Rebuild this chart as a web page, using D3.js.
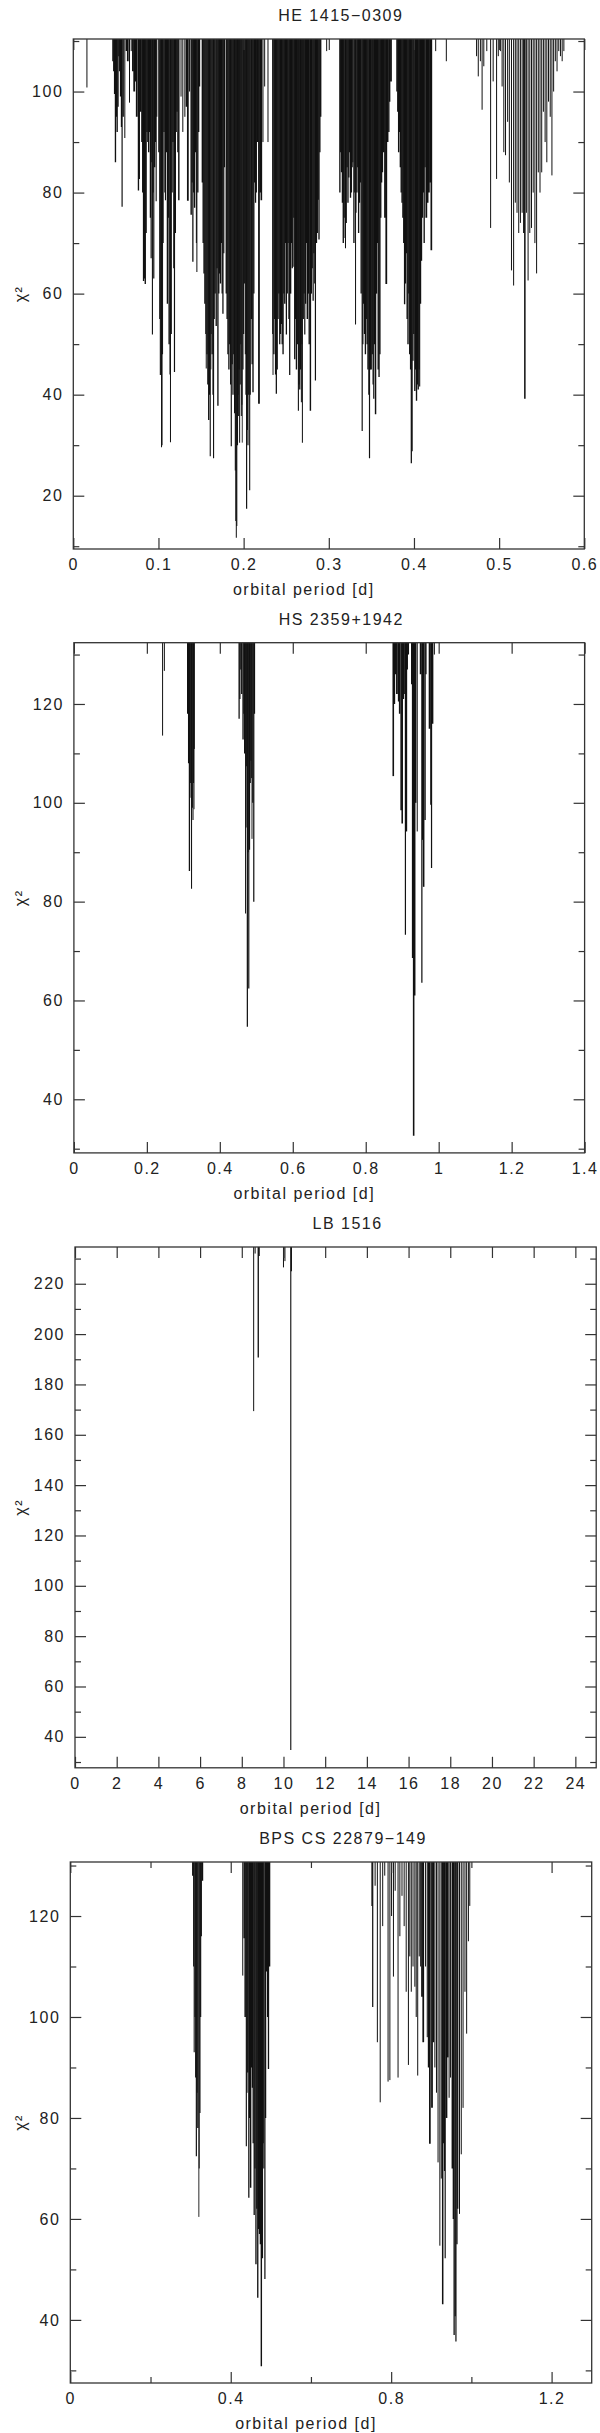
<!DOCTYPE html>
<html>
<head>
<meta charset="utf-8">
<script src="https://cdnjs.cloudflare.com/ajax/libs/d3/7.8.5/d3.min.js"></script>
<style>
  body { margin: 0; background: #fff; }
  svg text { font-family: "Liberation Sans", Arial, sans-serif; font-size: 16px; fill: #222; letter-spacing: 1.5px; }
</style>
</head>
<body>
<svg id="chart" width="600" height="2433"></svg>
<script>
// chi^2 minimum vs. trial orbital period, [period (d), chi2]
const he1415 = [
  [0.016,100.8],
  [0.0465,106],[0.0475,104],[0.0485,99.5],[0.0495,86],[0.0505,95],[0.0515,92],[0.0525,97],[0.0535,107],[0.0545,104],
  [0.0555,99],[0.0565,93],[0.0573,77.2],[0.0585,95],[0.0605,90.8],[0.0625,108],[0.064,106],[0.066,97.8],[0.068,108],
  [0.070,104],[0.0715,100],[0.073,102],[0.0745,95],[0.0765,80.4],[0.0775,82.7],[0.079,96],[0.0805,90],[0.0815,80],
  [0.0825,62.5],[0.0835,63],[0.0845,61.9],[0.0855,72],[0.0865,92],[0.0875,90],[0.0885,88],[0.0895,92],[0.0905,75],
  [0.0914,67],[0.0922,86],[0.0929,51.9],[0.0937,80],[0.0945,63],[0.0955,85],[0.0965,90],[0.0973,78.3],[0.098,95],
  [0.1005,88],[0.1015,55],[0.1022,43.9],[0.103,44],[0.1036,29.6],[0.1042,30],[0.1048,48],[0.1055,70],
  [0.1065,92],[0.1075,80],[0.1082,78.5],
  [0.1095,88],[0.1105,58],[0.1115,75],[0.1125,50],[0.1135,44],[0.1141,30.6],[0.115,52],[0.116,80],[0.117,90],
  [0.118,65],[0.1188,44.5],[0.1198,72],[0.1208,92],[0.1218,96],[0.1228,88],[0.1239,78.5],
  [0.1265,99],[0.1286,92],[0.131,95],[0.133,97],[0.1345,78.4],[0.1365,100],[0.1384,75.6],
  [0.1395,82],[0.1404,66.3],[0.1414,80],[0.1424,77],[0.1435,88],[0.1445,70],[0.1451,64.3],[0.1462,80],[0.1472,92],[0.1482,101],
  [0.1515,82],[0.1525,70],[0.1535,64],[0.1545,58],[0.1555,52],[0.1561,45.2],[0.157,48],[0.158,42],[0.159,35],
  [0.16,40],[0.1608,27.8],[0.1615,45],[0.162,52],[0.163,48],[0.164,40],[0.1647,27.4],[0.1655,55],[0.1665,60],
  [0.1678,53.6],[0.1688,65],[0.1698,37.8],[0.1708,60],[0.1718,64],[0.1728,62],[0.1738,70],[0.1748,60],[0.1757,56],
  [0.1767,68],[0.1775,85],
  [0.1796,60],[0.1806,55],[0.1816,48],[0.1827,45],[0.1837,50],[0.1847,42],[0.1855,29.8],[0.1865,46],[0.1875,40],
  [0.1884,48],[0.1894,36.3],[0.1902,25],[0.1908,15],[0.1914,11.7],[0.192,14],[0.1928,30],[0.1935,40],[0.1941,35.8],
  [0.1947,45],[0.1953,30.5],[0.196,42],[0.1967,50],[0.1973,35.8],[0.198,38],[0.1984,30.5],[0.1992,45],[0.2,52],
  [0.2012,62],[0.202,48],[0.2027,40],[0.2035,17.4],[0.2043,33],[0.2051,30],[0.206,40],[0.2071,21.1],[0.2078,40],
  [0.209,55],[0.21,46],[0.211,40.5],[0.212,60],[0.2129,82],[0.214,78],[0.2149,80],
  [0.2165,90],[0.218,38.2],[0.2195,80],[0.2208,78.5],[0.2227,90],[0.2247,101],[0.2286,90],
  [0.234,52],[0.2345,43.9],[0.2355,48],[0.2365,55],[0.2375,44],[0.2384,40.2],[0.2394,45],[0.2404,55],[0.2414,60],
  [0.2424,50],[0.2433,52],[0.2443,54],[0.2453,50],[0.2463,48],[0.2473,60],[0.2483,58],[0.2493,70],[0.2502,51.9],
  [0.2512,60],[0.2522,70],[0.2532,55],[0.2541,43.9],[0.2552,60],[0.2562,70],[0.2571,65],[0.258,65.3],[0.259,75],
  [0.26,47],[0.261,55],[0.262,45],[0.263,50],[0.2643,36.8],[0.265,42],[0.2659,41],[0.2668,45],[0.2678,38.5],
  [0.2684,50],[0.269,30.5],[0.27,55],[0.271,60],[0.2718,51.9],[0.2728,58],[0.2737,70],[0.2748,55],[0.276,60],
  [0.277,50],[0.2784,36.8],[0.2795,60],[0.2805,65],[0.2816,58.6],[0.2825,68],[0.2835,62],[0.2843,42.8],[0.2855,70],
  [0.2865,72],[0.2875,78.6],[0.2885,70.7],[0.2895,88],[0.2905,95],
  [0.2975,108],
  [0.313,80],[0.314,88],[0.315,84],[0.316,78],[0.317,70],[0.318,75],[0.319,71],[0.3196,69],[0.3205,74],[0.3215,85],
  [0.3225,78],[0.3235,83],[0.3245,88],[0.3255,79],[0.3265,80],[0.3275,85],[0.3282,86],[0.3295,70],[0.3305,80],
  [0.3314,53.9],[0.332,76],[0.333,80],[0.334,85],[0.335,72],[0.336,78],[0.337,82],[0.338,60],[0.3392,32.8],
  [0.34,50],[0.341,58],[0.342,52],[0.343,48],[0.344,55],[0.345,50],[0.346,45],[0.347,40],[0.3478,27.4],[0.3488,45],
  [0.3498,45],[0.351,48],[0.352,42],[0.3528,39.2],[0.3538,50],[0.3549,36.1],[0.356,60],[0.357,70],[0.358,45],
  [0.359,43.5],[0.36,48],[0.361,75],[0.362,82],[0.363,84],[0.3645,88],[0.366,75],[0.3675,61.9],[0.369,90],
  [0.3705,92],[0.3715,98],[0.373,102],
  [0.38,100],[0.381,96],[0.382,88],[0.383,92],[0.384,85],[0.385,80],[0.386,78],[0.387,75],[0.388,70],[0.389,57.9],
  [0.39,62],[0.391,68],[0.392,55],[0.393,50],[0.394,60],[0.395,48],[0.396,45],[0.3969,26.4],[0.3978,28.8],
  [0.3988,46.7],[0.3998,52],[0.401,40.7],[0.402,45],[0.403,38.8],[0.404,42],[0.405,41],[0.406,45],[0.4067,41.6],
  [0.4077,58],[0.4088,66.5],[0.41,75],[0.411,80],[0.412,70],[0.413,85],[0.4145,75],[0.416,78],[0.4175,80],
  [0.419,82],[0.4204,68.6],
  [0.4255,108],[0.438,106],
  [0.4735,107],[0.4755,103],[0.478,106],[0.48,96.4],[0.482,105],[0.4855,108],[0.49,73],[0.493,102],[0.497,82.7],
  [0.499,107],[0.5015,108],[0.5035,101],[0.5055,88],[0.5075,87.4],[0.51,94],[0.512,82],[0.5145,64.6],[0.517,61.6],
  [0.519,78],[0.521,76],[0.523,72],[0.525,74],[0.527,76],[0.529,72],[0.5302,39.2],[0.532,76],[0.534,62.6],
  [0.536,72],[0.538,73],[0.54,80],[0.542,70],[0.544,64],[0.546,84],[0.548,80],[0.55,84],[0.552,96],[0.554,90],
  [0.556,86],[0.558,98],[0.56,95],[0.562,83.4],[0.564,100],[0.566,106],[0.568,104],[0.57,108],[0.572,107],
  [0.574,106],[0.576,108]
];

const hs2359 = [
  [0.2431,113.6],[0.248,126.7],
  [0.312,118],[0.3145,108],[0.3167,86.2],[0.319,104],[0.321,101],[0.3225,82.6],[0.3245,99],[0.3265,96.5],
  [0.328,104],[0.3294,98.7],[0.3304,110.9],
  [0.4529,117],[0.455,121],[0.4578,127],[0.46,122],[0.4637,112.8],[0.466,118],[0.468,110],[0.4706,77.6],
  [0.472,95],[0.4735,107.4],[0.4755,54.7],[0.4775,90],[0.4794,62.4],[0.4814,90.5],[0.4835,104],[0.4853,108.5],
  [0.487,105],[0.4882,92.7],[0.4905,100],[0.4931,80],[0.4951,118],
  [0.8755,105.4],[0.8785,120],[0.882,126],[0.8855,122],[0.8902,120.5],[0.893,118],[0.8971,98.5],[0.9,95.8],
  [0.903,121],[0.9069,122],[0.9088,73.3],[0.9118,94.2],[0.914,127],[0.9167,130],[0.926,124],[0.9284,68.6],
  [0.9314,32.6],[0.9343,61],[0.937,100],[0.9412,94.2],[0.9505,126],[0.9539,63.6],[0.9559,92.5],[0.9588,83],
  [0.9627,96.5],[0.965,126],[0.975,115],[0.9784,99.6],[0.9804,86.8],[0.9833,116],[0.9882,130]
];

const lb1516 = [
  [8.57,169.4],[8.64,232],[8.79,190.7],[8.83,231],[10.0,226.5],[10.07,229],[10.35,34.8],[10.38,225]
];

const bpsCs22879 = [
  [0.3053,128],[0.3075,110],[0.3089,93],[0.311,100],[0.3125,88],[0.3143,72.4],[0.316,85],[0.318,78],[0.3205,60.4],
  [0.3215,70],[0.3232,81],[0.325,100],[0.3267,116],[0.3294,127],
  [0.43,108.2],[0.4335,115.6],[0.436,100],[0.4389,74.4],[0.4405,85],[0.4424,89],[0.4451,64.2],[0.447,80],
  [0.4496,66.2],[0.452,90],[0.454,86],[0.456,75],[0.4585,60.8],[0.4605,70],[0.4629,51],[0.465,62],[0.4674,44.4],
  [0.4695,58],[0.4718,57],[0.474,55],[0.4763,30.8],[0.479,52.2],[0.481,75],[0.4825,70],[0.4852,48.1],[0.487,80],
  [0.4896,109],[0.492,100],[0.4941,89.7],[0.4967,110],
  [0.7522,122],[0.754,102],[0.76,126],[0.7656,95],[0.7727,83.1],[0.7789,118],[0.784,128],[0.7923,87.2],
  [0.7968,87.5],[0.801,120],[0.8057,108],[0.81,125],[0.8172,88],[0.8217,116],[0.827,124],[0.8324,118],
  [0.8375,105],[0.843,90.5],[0.8465,112],[0.8502,105],[0.8545,110],[0.8591,106],[0.8625,100],[0.8662,88.4],
  [0.87,112],[0.8735,110],[0.8769,104],[0.88,95],[0.8858,110],[0.89,96],[0.8935,90],[0.8965,74.9],[0.9018,82],
  [0.905,95],[0.909,90],[0.913,85],[0.9169,71.2],[0.9214,54.7],[0.925,68],[0.9285,43.1],[0.931,75],[0.933,69.5],
  [0.9347,52.2],[0.938,80],[0.941,92],[0.9445,84],[0.9481,88],[0.9525,70],[0.955,60],[0.957,37],[0.9597,40.7],
  [0.9615,35.7],[0.964,55],[0.966,62],[0.9704,61],[0.9748,72.8],[0.9793,82],[0.984,105],[0.9882,96.7],
  [0.9926,115],[0.996,122]
];

const titles = ["HE 1415\u22120309", "HS 2359+1942", "LB 1516", "BPS CS 22879\u2212149"];

const xTicks1 = [0, 0.1, 0.2, 0.3, 0.4, 0.5, 0.6];
const yTicks1 = [20, 40, 60, 80, 100];
const xTicks2 = [0, 0.2, 0.4, 0.6, 0.8, 1, 1.2, 1.4];
const yTicks2 = [40, 60, 80, 100, 120];
const xTicks3 = [0, 2, 4, 6, 8, 10, 12, 14, 16, 18, 20, 22, 24];
const yTicks3 = [40, 60, 80, 100, 120, 140, 160, 180, 200, 220];
const xTicks4 = [0, 0.4, 0.8, 1.2];
const yTicks4 = [40, 60, 80, 100, 120];

// layout of the four stacked panels
const panels = [
  { data: he1415, title: titles[0], xt: xTicks1, yt: yTicks1, xMinor: null, x0: 73.3, x1: 584.3, y0: 39, y1: 549,
    xDom: [0, 0.6], yDom: [9.45, 110.4] },
  { data: hs2359, title: titles[1], xt: xTicks2, yt: yTicks2, xMinor: null, x0: 73.9, x1: 584.6, y0: 642.7, y1: 1152.9,
    xDom: [0, 1.4], yDom: [29.15, 132.4] },
  { data: lb1516, title: titles[2], xt: xTicks3, yt: yTicks3, xMinor: null, x0: 75, x1: 596.2, y0: 1247, y1: 1767.8,
    xDom: [0, 25], yDom: [27.7, 234.6] },
  { data: bpsCs22879, title: titles[3], xt: xTicks4, yt: yTicks4, xMinor: 0.2, x0: 70.3, x1: 591.7, y0: 1862, y1: 2383,
    xDom: [0, 1.3], yDom: [27.5, 130.7] }
];

const axisColor = "#333";
const lineColor = "#111";
const fmt = d => String(+d.toFixed(3));

const svg = d3.select("#chart");

panels.forEach((p, i) => {
  const x = d3.scaleLinear().domain(p.xDom).range([p.x0, p.x1]);
  const y = d3.scaleLinear().domain(p.yDom).range([p.y1, p.y0]);
  const g = svg.append("g");

  g.append("clipPath").attr("id", "clip" + i)
    .append("rect").attr("x", p.x0).attr("y", p.y0).attr("width", p.x1 - p.x0).attr("height", p.y1 - p.y0);

  // line width: neighbouring lines closer than ~1.3px merge into solid black
  const pts = p.data.slice().sort((a, b) => a[0] - b[0]);
  const px = pts.map(d => x(d[0]));
  const widths = px.map((v, k) => {
    const gl = k > 0 ? v - px[k - 1] : Infinity;
    const gr = k < px.length - 1 ? px[k + 1] - v : Infinity;
    const gap = Math.min(gl, gr);
    return gap < 1.3 ? gap + 0.5 : 1;
  });

  g.append("g").attr("clip-path", `url(#clip${i})`)
    .selectAll("line").data(pts).join("line")
    .attr("x1", d => x(d[0])).attr("x2", d => x(d[0]))
    .attr("y1", p.y0).attr("y2", d => y(d[1]))
    .attr("stroke", lineColor)
    .attr("stroke-width", (d, k) => widths[k]);

  const yMinor = d3.range(Math.ceil(p.yDom[0] / 10) * 10, p.yDom[1], 10).filter(v => !p.yt.includes(v));

  const addAxis = (axis, tr, labels) => {
    const a = g.append("g").attr("transform", tr).call(axis);
    a.select(".domain").remove();
    a.selectAll(".tick line").attr("stroke", axisColor).attr("stroke-width", 1.2);
    if (!labels) a.selectAll(".tick text").remove();
    a.attr("font-family", null).attr("font-size", null);
    return a;
  };

  addAxis(d3.axisBottom(x).tickValues(p.xt).tickSize(-11).tickPadding(10).tickFormat(fmt), `translate(0,${p.y1})`, true);
  addAxis(d3.axisTop(x).tickValues(p.xt).tickSize(-11), `translate(0,${p.y0})`, false);
  if (p.xMinor) {
    const xm = d3.range(p.xDom[0], p.xDom[1], p.xMinor).map(v => +v.toFixed(3)).filter(v => !p.xt.includes(v));
    addAxis(d3.axisBottom(x).tickValues(xm).tickSize(-6), `translate(0,${p.y1})`, false);
    addAxis(d3.axisTop(x).tickValues(xm).tickSize(-6), `translate(0,${p.y0})`, false);
  }
  addAxis(d3.axisLeft(y).tickValues(p.yt).tickSize(-11).tickPadding(10).tickFormat(fmt), `translate(${p.x0},0)`, true);
  addAxis(d3.axisRight(y).tickValues(p.yt).tickSize(-11), `translate(${p.x1},0)`, false);
  addAxis(d3.axisLeft(y).tickValues(yMinor).tickSize(-6), `translate(${p.x0},0)`, false);
  addAxis(d3.axisRight(y).tickValues(yMinor).tickSize(-6), `translate(${p.x1},0)`, false);

  g.append("rect")
    .attr("x", p.x0).attr("y", p.y0).attr("width", p.x1 - p.x0).attr("height", p.y1 - p.y0)
    .attr("fill", "none").attr("stroke", axisColor).attr("stroke-width", 1.3);

  const cx = (p.x0 + p.x1) / 2;
  g.append("text").attr("x", cx + 12).attr("y", p.y0 - 18).attr("text-anchor", "middle").text(p.title);
  g.append("text").attr("x", cx - 25).attr("y", p.y1 + 46).attr("text-anchor", "middle").text("orbital period [d]");
  g.append("text")
    .attr("transform", `translate(26,${(p.y0 + p.y1) / 2}) rotate(-90)`)
    .attr("text-anchor", "middle").text("\u03c7\u00b2");
});
</script>
</body>
</html>
